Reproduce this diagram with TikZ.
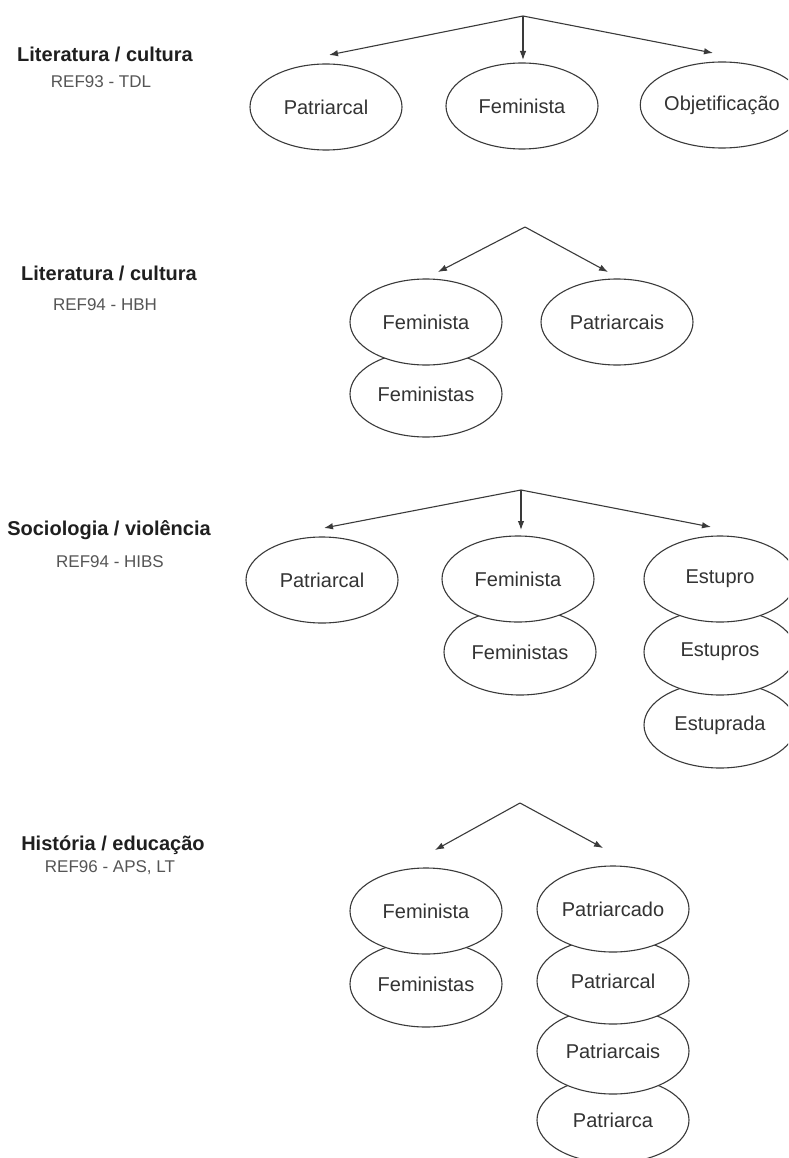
\documentclass[tikz,border=0pt]{standalone}
\usepackage{fontspec}
\setmainfont{Liberation Sans}
\usetikzlibrary{shapes.geometric,arrows.meta}
\definecolor{ln}{HTML}{3A3A3A}
\definecolor{txt}{HTML}{333333}
\definecolor{reftxt}{HTML}{555555}
\tikzset{
  ell/.style={ellipse,draw=ln,fill=white,line width=1.1pt,minimum width=152pt,minimum height=86pt,inner sep=0pt,font=\fontsize{20}{24}\selectfont,text=txt},
  arr/.style={draw=ln,line width=1.1pt,-{Latex[length=9pt,width=6.5pt]}},
  ttl/.style={font=\fontsize{20}{24}\selectfont\bfseries,text=black!88,inner sep=0pt},
  reflbl/.style={font=\fontsize{17}{20}\selectfont,text=reftxt,inner sep=0pt}
}
\begin{document}
\begin{tikzpicture}[x=1pt,y=-1pt]
\useasboundingbox (0,0) rectangle (788,1158);
\clip (0,0) rectangle (788,1158);

% ---------- Section 1 ----------
\node[ttl] (t1) at (105,54) {Literatura / cultura};
\node[reflbl] (r1) at (101,82) {REF93 - TDL};
\coordinate (a1) at (523,16);
\node[ell] (n1a) at (326,107) {Patriarcal};
\node[ell] (n1b) at (522,106) {Feminista};
\node[ell] (n1c) at (722,105) {Objetificação};
\coordinate (p1a) at (329,55);
\coordinate (p1b) at (523,60);
\coordinate (p1c) at (713,53);
\draw[arr] (a1) -- (p1a);
\draw[arr] (a1) -- (p1b);
\draw[arr] (a1) -- (p1c);

% ---------- Section 2 ----------
\node[ttl] (t2) at (109,273) {Literatura / cultura};
\node[reflbl] (r2) at (105,305) {REF94 - HBH};
\coordinate (a2) at (525,227);
\node[ell] (n2b) at (426,394) {Feministas};
\node[ell] (n2a) at (426,322) {Feminista};
\node[ell] (n2c) at (617,322) {Patriarcais};
\coordinate (p2a) at (438,272);
\coordinate (p2c) at (608,272);
\draw[arr] (a2) -- (p2a);
\draw[arr] (a2) -- (p2c);

% ---------- Section 3 ----------
\node[ttl] (t3) at (109,530) {Sociologia / violência};
\node[reflbl] (r3) at (110,562) {REF94 - HIBS};
\coordinate (a3) at (521,490);
\node[ell] (n3a) at (322,580) {Patriarcal};
\node[ell] (n3c) at (520,652) {Feministas};
\node[ell] (n3b) at (518,579) {Feminista};
\node[ell] (n3f) at (720,725) {Estuprada};
\node[ell] (n3e) at (720,652) {Estupros};
\node[ell] (n3d) at (720,579) {Estupro};
\coordinate (p3a) at (324,528);
\coordinate (p3b) at (521,530);
\coordinate (p3d) at (711,527);
\draw[arr] (a3) -- (p3a);
\draw[arr] (a3) -- (p3b);
\draw[arr] (a3) -- (p3d);

% ---------- Section 4 ----------
\node[ttl] (t4) at (113,845) {História / educação};
\node[reflbl] (r4) at (110,868) {REF96 - APS, LT};
\coordinate (a4) at (520,803);
\node[ell] (n4b) at (426,984) {Feministas};
\node[ell] (n4a) at (426,911) {Feminista};
\node[ell] (n4f) at (613,1120) {Patriarca};
\node[ell] (n4e) at (613,1051) {Patriarcais};
\node[ell] (n4d) at (613,981) {Patriarcal};
\node[ell] (n4c) at (613,909) {Patriarcado};
\coordinate (p4a) at (435,850);
\coordinate (p4c) at (603,848);
\draw[arr] (a4) -- (p4a);
\draw[arr] (a4) -- (p4c);
\end{tikzpicture}
\end{document}
